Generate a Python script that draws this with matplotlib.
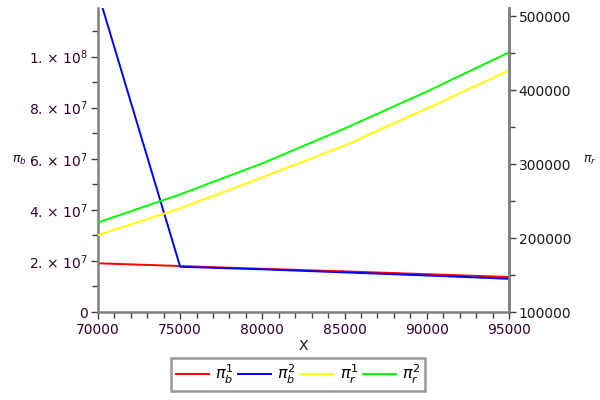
import matplotlib
matplotlib.use("Agg")
import matplotlib.pyplot as plt
from matplotlib.ticker import MultipleLocator, FixedLocator

x = [70000, 75000, 80000, 85000, 90000, 95000]
pi_b1 = [1.906e7, 1.80e7, 1.69e7, 1.59e7, 1.48e7, 1.37e7]
pi_b2 = [1.25e8, 1.77e7, 1.67e7, 1.55e7, 1.43e7, 1.30e7]
pi_r1 = [204000, 240000, 282000, 325000, 375000, 426600]
pi_r2 = [221000, 259000, 301000, 348000, 398000, 451000]

left_ticks = [0, 2e7, 4e7, 6e7, 8e7, 1e8]
left_labels = ["0", r"2. $\times$ 10$^{7}$", r"4. $\times$ 10$^{7}$",
               r"6. $\times$ 10$^{7}$", r"8. $\times$ 10$^{7}$", r"1. $\times$ 10$^{8}$"]
right_ticks = [100000, 200000, 300000, 400000, 500000]
x_ticks = [70000, 75000, 80000, 85000, 90000, 95000]

fig = plt.figure(figsize=(6, 4), dpi=100)
ax = fig.add_axes([0.1633, 0.22, 0.685, 0.76])
ax2 = ax.twinx()

gray = "#808080"
l1, = ax.plot(x, pi_b1, color="#ff0000", lw=1.4, label=r"$\pi_b^1$")
l2, = ax.plot(x, pi_b2, color="#0000ff", lw=1.4, label=r"$\pi_b^2$")
l3, = ax2.plot(x, pi_r1, color="#ffff00", lw=1.4, label=r"$\pi_r^1$")
l4, = ax2.plot(x, pi_r2, color="#00ff00", lw=1.4, label=r"$\pi_r^2$")

ax.set_xlim(70000, 95000)
ax.set_ylim(0, 1.19e8)
ax2.set_ylim(100000, 511000)

ax.xaxis.set_major_locator(FixedLocator(x_ticks))
ax.set_xticklabels([str(t) for t in x_ticks])
ax.xaxis.set_minor_locator(MultipleLocator(1000))
ax.yaxis.set_major_locator(FixedLocator(left_ticks))
ax.set_yticklabels(left_labels)
ax.yaxis.set_minor_locator(MultipleLocator(1e7))
ax2.yaxis.set_major_locator(FixedLocator(right_ticks))
ax2.set_yticklabels([str(t) for t in right_ticks])
ax2.yaxis.set_minor_locator(MultipleLocator(50000))

for a in (ax, ax2):
    a.spines["top"].set_visible(False)
    for s in ("left", "right", "bottom"):
        a.spines[s].set_color(gray)
        a.spines[s].set_linewidth(1.8)
    a.tick_params(which="both", direction="out", color="#404040", width=1)
    a.tick_params(which="major", length=5)
    a.tick_params(which="minor", length=4)

ax.tick_params(axis="y", labelcolor="#300030", labelsize=10, pad=2)
ax.tick_params(axis="x", labelcolor="#300030", labelsize=10, pad=3)
ax2.tick_params(axis="y", labelcolor="#1a1a1a", labelsize=10, pad=2)
ax2.spines["left"].set_visible(False)
ax2.spines["bottom"].set_visible(False)

ax.set_xlabel("X", fontsize=10, color="#1a1a1a", labelpad=1)
fig.text(0.033, 0.6, r"$\pi_b$", fontsize=9, ha="center", va="center", color="#300030")
fig.text(0.983, 0.6, r"$\pi_r$", fontsize=9, ha="center", va="center", color="#1a1a1a")

leg = fig.legend(handles=[l1, l2, l3, l4], loc="center", bbox_to_anchor=(0.497, 0.064),
                 ncol=4, frameon=True, fancybox=False, fontsize=11.5,
                 handlelength=2.05, handletextpad=0.4, columnspacing=0.3,
                 borderpad=0.3, borderaxespad=0)
leg.get_frame().set_edgecolor(gray)
leg.get_frame().set_linewidth(1.8)

fig.savefig("out.png", dpi=100)
